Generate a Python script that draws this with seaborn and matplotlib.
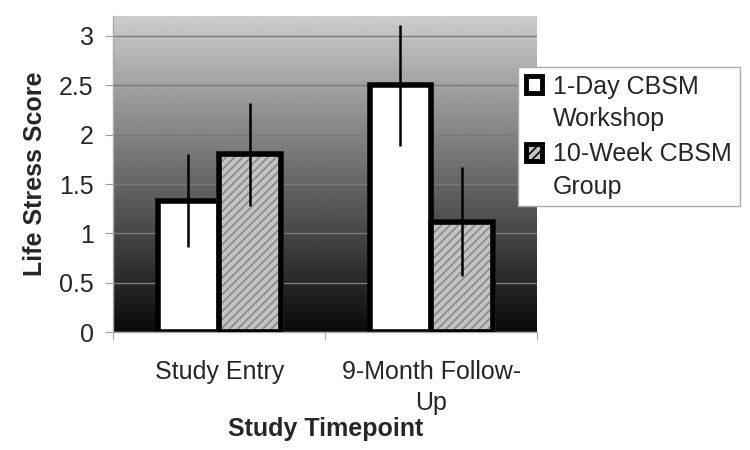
import numpy as np
import pandas as pd
import matplotlib
matplotlib.use("Agg")
import matplotlib.pyplot as plt
import seaborn as sns
from matplotlib.patches import Patch, Rectangle
from matplotlib.legend_handler import HandlerPatch

# data
timepoints = ["Study Entry", "9-Month Follow-\nUp"]
groups = ["1-Day CBSM\nWorkshop", "10-Week CBSM\nGroup"]
workshop_mean = [1.33, 2.50]
workshop_err = [0.47, 0.61]
group_mean = [1.80, 1.12]
group_err = [0.52, 0.55]
y_ticks = [0, 0.5, 1, 1.5, 2, 2.5, 3]
y_tick_labels = ["0", "0.5", "1", "1.5", "2", "2.5", "3"]

df = pd.DataFrame({
    "Timepoint": timepoints * 2,
    "Group": [groups[0]] * 2 + [groups[1]] * 2,
    "Score": workshop_mean + group_mean,
})

sns.set_style("white")
plt.rcParams["font.family"] = ["Liberation Sans", "DejaVu Sans"]
plt.rcParams["hatch.linewidth"] = 1.2

fig = plt.figure(figsize=(7.5, 4.5), dpi=100)
ax = fig.add_axes([0.151, 0.262, 0.565, 0.702])

sns.barplot(data=df, x="Timepoint", y="Score", hue="Group",
            palette=["white", "#c4c4c4"], edgecolor="black", linewidth=4,
            width=0.58, errorbar=None, legend=False, ax=ax, zorder=2)

# hatched second series + black outline on top
for b in ax.containers[1]:
    b.set_hatch("////")
    b.set_edgecolor("#8a8a8a")
    ax.add_patch(Rectangle((b.get_x(), 0), b.get_width(), b.get_height(),
                           fill=False, edgecolor="black", linewidth=4, zorder=3))

# error bars
for cont, errs in zip(ax.containers, [workshop_err, group_err]):
    xs = [b.get_x() + b.get_width() / 2 for b in cont]
    ys = [b.get_height() for b in cont]
    ax.errorbar(xs, ys, yerr=errs, fmt="none", ecolor="black",
                elinewidth=1.8, capsize=0, zorder=4)

# gradient background
grad = np.linspace(0.80, 0.04, 256).reshape(-1, 1)
ax.imshow(grad, cmap="gray", vmin=0, vmax=1, aspect="auto",
          extent=[0, 1, 0, 1], transform=ax.transAxes, zorder=0)

ax.set_xlim(-0.5, 1.5)
ax.set_ylim(0, 3.2)
ax.set_yticks(y_ticks, y_tick_labels)
ax.set_xticks([-0.5, 0.5, 1.5], minor=True)
ax.yaxis.grid(True, color="#7a7a7a", linewidth=1)
ax.set_axisbelow(True)

ax.tick_params(axis="y", length=6, color="#999999", labelsize=18, pad=8, left=True)
ax.tick_params(axis="x", which="major", length=0, labelsize=18, pad=20)
ax.tick_params(axis="x", which="minor", length=6, color="#999999", bottom=True)
for t in ax.get_xticklabels():
    t.set_linespacing(1.35)
for s in ["top", "right"]:
    ax.spines[s].set_visible(False)
for s in ["left", "bottom"]:
    ax.spines[s].set_color("#aaaaaa")
    ax.spines[s].set_linewidth(1)

ax.set_ylabel("Life Stress Score", fontsize=18, fontweight="bold", labelpad=9)
ax.set_xlabel("Study Timepoint", fontsize=18, fontweight="bold", labelpad=2)


def first_line_box(legend, orig_handle, xdescent, ydescent, width, height, fontsize):
    # put the swatch next to the first line of a two-line label
    return Rectangle((-xdescent, -ydescent + 0.75 * fontsize), width, height)


handles = [
    Patch(facecolor="white", edgecolor="black", linewidth=3.5),
    Patch(facecolor="#c4c4c4", edgecolor="black", linewidth=3.5, hatch="////"),
]
leg = fig.legend(handles, groups, loc="upper left",
                 bbox_to_anchor=(0.691, 0.851), bbox_transform=fig.transFigure,
                 fontsize=18, frameon=True, fancybox=False, framealpha=1,
                 edgecolor="#aaaaaa", handlelength=0.65, handleheight=0.65,
                 handletextpad=0.45, borderpad=0.3, labelspacing=0.45,
                 borderaxespad=0,
                 handler_map={Patch: HandlerPatch(patch_func=first_line_box)})
for t in leg.get_texts():
    t.set_linespacing(1.45)

fig.savefig("out.png", dpi=100)
